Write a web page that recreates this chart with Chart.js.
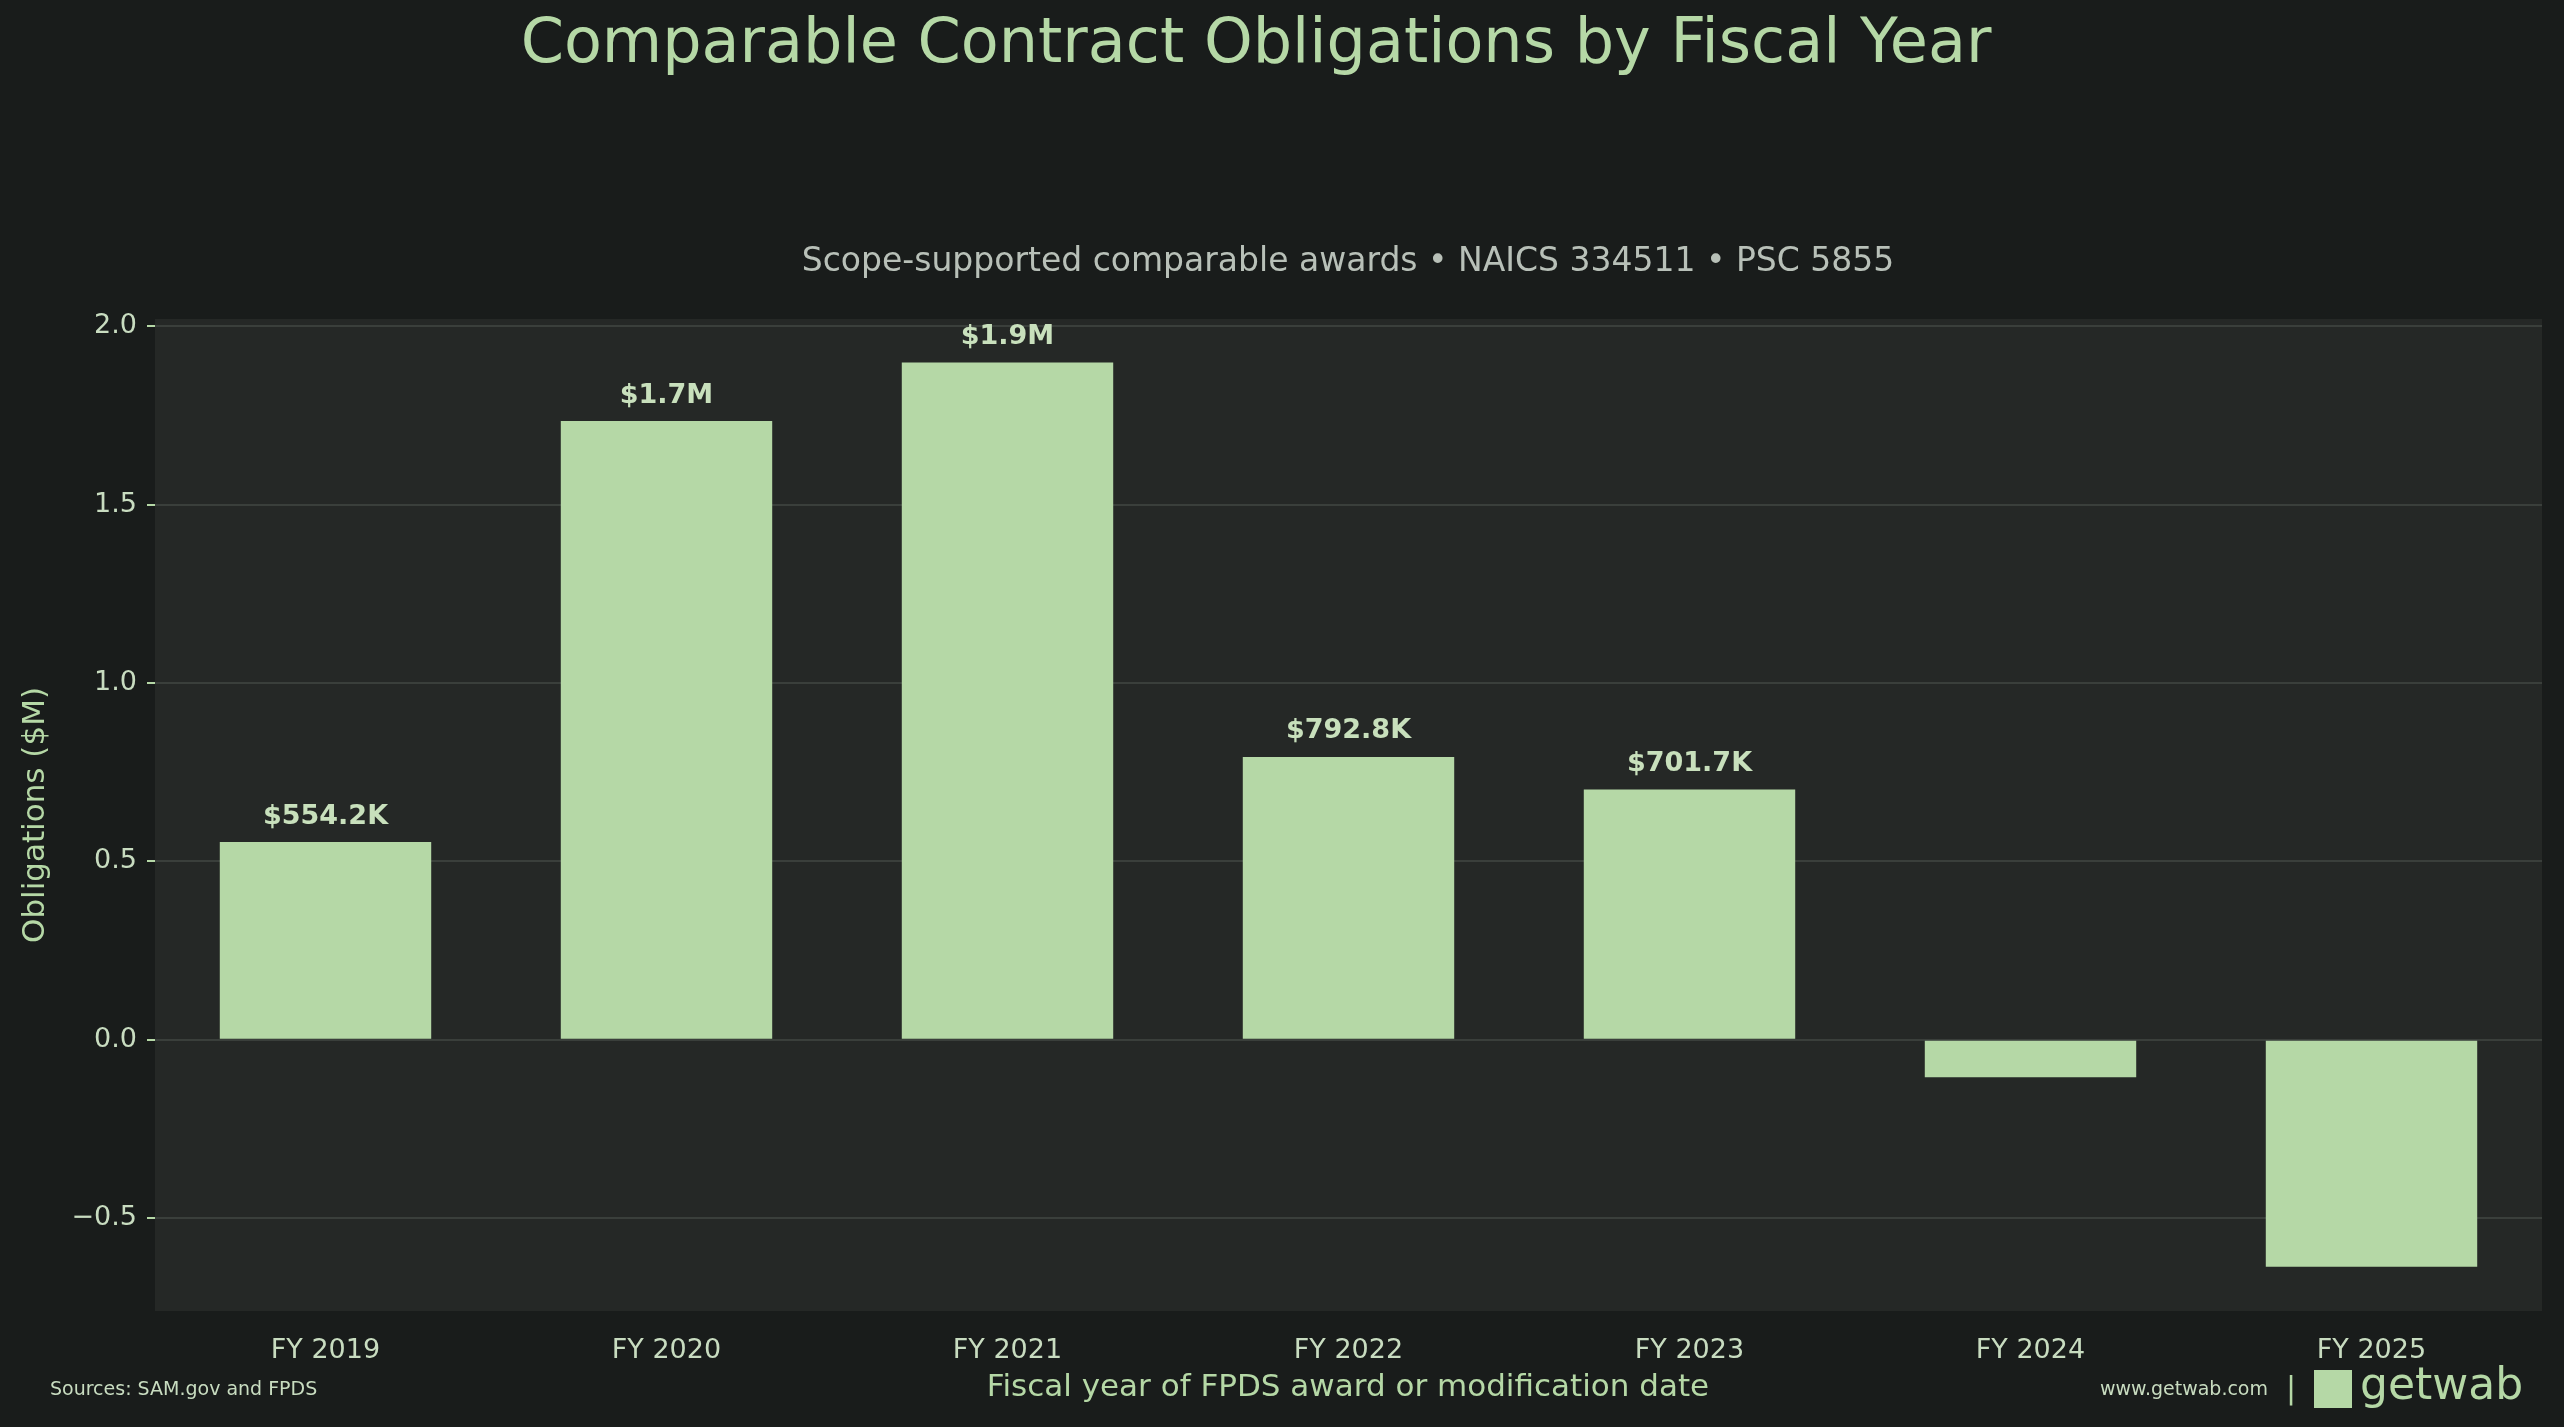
<!DOCTYPE html>
<html>
<head>
<meta charset="utf-8">
<script src="https://cdn.jsdelivr.net/npm/chart.js@4.4.1/dist/chart.umd.min.js"></script>
<style>
  html, body { margin: 0; padding: 0; background: #191c1b; }
  #wrap { width: 2564px; height: 1427px; }
</style>
</head>
<body>
<div id="wrap"><canvas id="chartObligaciones"></canvas></div>
<script>
const fiscalYears = ["FY 2019", "FY 2020", "FY 2021", "FY 2022", "FY 2023", "FY 2024", "FY 2025"];
const obligationsM = [0.5542, 1.734, 1.898, 0.7928, 0.7017, -0.105, -0.636];
const barLabels = ["$554.2K", "$1.7M", "$1.9M", "$792.8K", "$701.7K", "", ""];
const yTickValues = [-0.5, 0, 0.5, 1.0, 1.5, 2.0];

const green = "#b5d8a6";
const font = "DejaVu Sans";

// fondo del área de la gráfica y textos extra
const decoraciones = {
  id: "decoraciones",
  beforeDraw(chart) {
    const { ctx, chartArea: a } = chart;
    ctx.save();
    ctx.fillStyle = "#252826";
    ctx.fillRect(a.left, a.top, a.right - a.left, a.bottom - a.top);
    ctx.restore();
  },
  afterDraw(chart) {
    const { ctx } = chart;
    ctx.save();
    ctx.textBaseline = "middle";
    ctx.textAlign = "center";
    ctx.fillStyle = green;
    ctx.font = `62px "${font}"`;
    ctx.fillText("Comparable Contract Obligations by Fiscal Year", 1256, 46);
    ctx.fillStyle = "#b8c0b8";
    ctx.font = `33px "${font}"`;
    ctx.fillText("Scope-supported comparable awards \u2022 NAICS 334511 \u2022 PSC 5855", 1348, 262);
    ctx.fillStyle = green;
    ctx.font = `31px "${font}"`;
    ctx.fillText("Fiscal year of FPDS award or modification date", 1348, 1388);
    ctx.save();
    ctx.translate(36, 815);
    ctx.rotate(-Math.PI / 2);
    ctx.fillText("Obligations ($M)", 0, 0);
    ctx.restore();
    ctx.textAlign = "left";
    ctx.fillStyle = "#c8dcc0";
    ctx.font = `19px "${font}"`;
    ctx.fillText("Sources: SAM.gov and FPDS", 50, 1390);
    ctx.textAlign = "right";
    ctx.fillText("www.getwab.com", 2268, 1390);
    ctx.fillStyle = green;
    ctx.font = `30px "${font}"`;
    ctx.fillText("|", 2296, 1390);
    ctx.font = `44px "${font}"`;
    ctx.textAlign = "left";
    ctx.fillRect(2314, 1370, 38, 38);
    ctx.fillText("getwab", 2360, 1388);

    // etiquetas de las barras
    const meta = chart.getDatasetMeta(0);
    ctx.textAlign = "center";
    ctx.textBaseline = "bottom";
    ctx.font = `bold 27px "${font}"`;
    ctx.fillStyle = "#c8e0bc";
    meta.data.forEach((bar, i) => {
      if (barLabels[i]) ctx.fillText(barLabels[i], bar.x, bar.y - 12);
    });
    ctx.restore();
  }
};

new Chart(document.getElementById("chartObligaciones"), {
  type: "bar",
  data: {
    labels: fiscalYears,
    datasets: [{
      data: obligationsM,
      backgroundColor: green,
      barPercentage: 0.62,
      categoryPercentage: 1
    }]
  },
  options: {
    responsive: true,
    maintainAspectRatio: false,
    animation: false,
    devicePixelRatio: 1,
    layout: { padding: { top: 319, right: 22, left: 0, bottom: 0 } },
    plugins: { legend: { display: false }, tooltip: { enabled: false } },
    scales: {
      x: {
        grid: { display: false, drawTicks: true, tickLength: 10, color: green },
        border: { display: false },
        ticks: { color: "#c8dcc0", font: { family: font, size: 27 }, padding: 14 },
        afterFit: s => { s.height = 116; }
      },
      y: {
        min: -0.76,
        max: 2.02,
        afterBuildTicks: s => { s.ticks = yTickValues.map(v => ({ value: v })); },
        grid: { color: "#3a3f3b", lineWidth: 2, tickLength: 8, tickColor: green },
        border: { display: false },
        ticks: {
          color: "#c8dcc0",
          font: { family: font, size: 27 },
          padding: 10,
          callback: v => (v < 0 ? "\u2212" : "") + Math.abs(v).toFixed(1)
        },
        afterFit: s => { s.width = 155; }
      }
    }
  },
  plugins: [decoraciones]
});
</script>
</body>
</html>
